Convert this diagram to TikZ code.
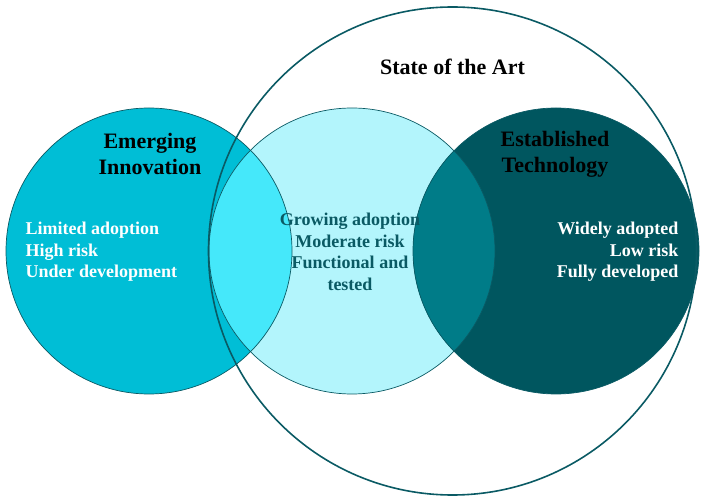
\documentclass[tikz,border=0pt]{standalone}
\usepackage{fontspec}
\setmainfont{Liberation Serif}
\definecolor{emergfill}{HTML}{00BED6}
\definecolor{stagefill}{HTML}{B3F5FC}
\definecolor{estabfill}{HTML}{00565F}
\definecolor{emstfill}{HTML}{45E8FA}
\definecolor{stesfill}{HTML}{007C88}
\definecolor{rim}{HTML}{0A5A64}

\begin{document}
\begin{tikzpicture}[x=1pt, y=-1pt,
    ring/.style={draw=rim, line width=0.7pt},
    head/.style={font=\bfseries\fontsize{22}{26.4}\selectfont, align=center},
    items/.style={font=\bfseries\fontsize{18}{21.6}\selectfont}]
  \useasboundingbox (0, 0) rectangle (704, 502);
  \coordinate (emerg) at (149, 251);
  \coordinate (stage) at (352, 251);
  \coordinate (estab) at (556, 251);
  \coordinate (art) at (452.5, 251);
  \fill[emergfill] (emerg) circle (143pt);
  \fill[stagefill] (stage) circle (143pt);
  \fill[estabfill] (estab) circle (143pt);
  \begin{scope}
    \clip (emerg) circle (143pt);
    \fill[emstfill] (stage) circle (143pt);
  \end{scope}
  \begin{scope}
    \clip (estab) circle (143pt);
    \fill[stesfill] (stage) circle (143pt);
  \end{scope}
  \draw[ring] (emerg) circle (143pt);
  \draw[ring] (stage) circle (143pt);
  \draw[ring] (estab) circle (143pt);
  \draw[rim, line width=1.6pt] (art) circle (244pt);

  \node[head] (arthead) at (452.5, 67) {State of the Art};
  \node[head] (emhead) at (150, 154) {Emerging\\Innovation};
  \node[head] (eshead) at (555, 154) {Established\\Technology};
  \node[items, text=white, anchor=west, align=left] (emlist) at (22, 252)
    {Limited adoption\\High risk\\Under development};
  \node[items, text=rim, align=center] (stlist) at (350, 252)
    {Growing adoption\\Moderate risk\\Functional and\\tested};
  \node[items, text=white, anchor=east, align=right] (eslist) at (682, 252)
    {Widely adopted\\Low risk\\Fully developed};
\end{tikzpicture}
\end{document}
